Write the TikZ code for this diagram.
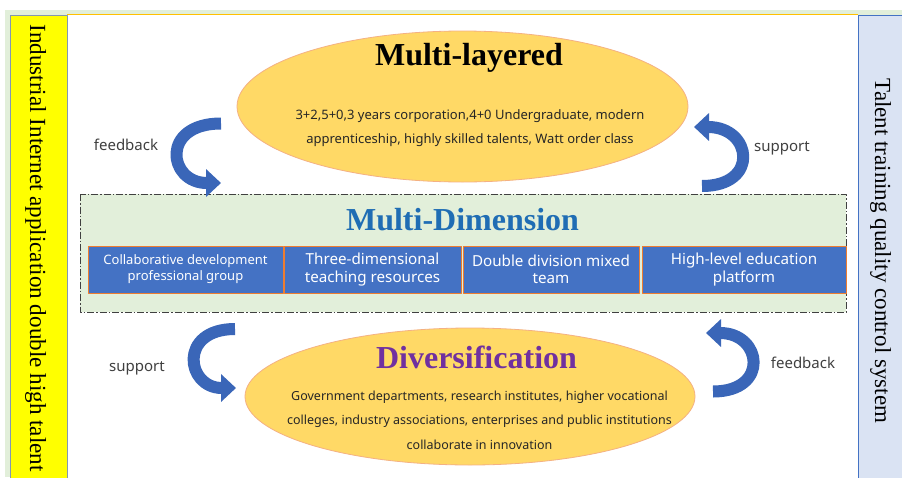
\documentclass[tikz,border=0pt]{standalone}
\usepackage{fontspec}
\setmainfont{Liberation Serif}
\newfontfamily\yahei{Noto Sans}
\usetikzlibrary{shapes.geometric,arrows.meta}

\definecolor{framegreen}{HTML}{E2EFDA}
\definecolor{sideyellow}{HTML}{FFFF00}
\definecolor{sideblue}{HTML}{DAE3F3}
\definecolor{sideedge}{HTML}{8497B0}
\definecolor{ovalfill}{HTML}{FFD966}
\definecolor{ovaledge}{HTML}{F4B183}
\definecolor{boxblue}{HTML}{4472C4}
\definecolor{boxedge}{HTML}{ED7D31}
\definecolor{arrowblue}{HTML}{3A66B8}
\definecolor{titleblue}{HTML}{1F6DB4}
\definecolor{titlepurple}{HTML}{7030A0}
\definecolor{labelgray}{HTML}{404040}
\definecolor{topline}{HTML}{FFC000}

\tikzset{
  oval/.style={ellipse, fill=ovalfill, draw=ovaledge, line width=0.8pt, inner sep=0pt},
  title/.style={font=\bfseries\fontsize{32}{36}\selectfont},
  ovaltext/.style={font=\yahei\fontsize{12.5}{24.5}\selectfont, text=black!85, align=center},
  dimbox/.style={fill=boxblue, draw=boxedge, line width=0.6pt, text=white, align=center,
    minimum height=47pt, inner sep=0pt, font=\yahei\fontsize{15.2}{17.5}\selectfont},
  loop arrow/.style={draw=arrowblue, line width=12pt, -{Triangle[width=27pt,length=15pt]}},
  arrowlabel/.style={font=\yahei\fontsize{15}{17}\selectfont, text=labelgray},
  sidetext/.style={rotate=-90, anchor=base west, font=\fontsize{23}{26}\selectfont}
}

\begin{document}
\begin{tikzpicture}[x=1pt, y=-1pt, line join=round]
  \useasboundingbox (0,0) rectangle (902,477);
  % frame and the two side columns
  \fill[white] (0,0) rectangle (902,477);
  \fill[framegreen] (5,10) rectangle (902,477);
  \fill[white] (67,15) rectangle (858,477);
  \draw[topline, line width=0.8pt] (67,14.5) -- (858,14.5);
  \filldraw[fill=sideyellow, draw=sideedge, line width=0.8pt] (10,15) rectangle (67,480);
  \filldraw[fill=sideblue, draw=boxblue, line width=0.8pt] (858.5,15) rectangle (905,480);
  \node[sidetext, font=\fontsize{23.1}{26}\selectfont] (industry) at (30,21)
    {Industrial Internet application double high talent};
  \node[sidetext] (quality) at (875,75) {Talent training quality control system};

  % top oval
  \node[oval, minimum width=451pt, minimum height=151pt] (layered) at (462.5,106.5) {};
  \node[title] (layeredtitle) at (469,58) {Multi-layered};
  \node[ovaltext, font=\yahei\fontsize{13}{24.5}\selectfont] (layeredtext) at (470,128)
    {3+2,5+0,3 years corporation,4+0 Undergraduate, modern\\
    apprenticeship, highly skilled talents, Watt order class};

  % middle band
  \filldraw[fill=framegreen, draw=black!75, line width=0.8pt,
    dash pattern=on 7pt off 2pt on 1.5pt off 2pt] (80,194) rectangle (846,312);
  \node[title, text=titleblue] (dimtitle) at (462.5,220) {Multi-Dimension};
  \node[dimbox, minimum width=195pt, font=\yahei\fontsize{13}{16}\selectfont] (group) at (185.5,269.5)
    {Collaborative development\\professional group};
  \node[dimbox, minimum width=177pt] (resources) at (372.5,269.5) {Three-dimensional\\teaching resources};
  \node[dimbox, minimum width=176pt] (team) at (551,269.5) {Double division mixed\\team};
  \node[dimbox, minimum width=204pt] (platform) at (744,269.5) {High-level education\\platform};

  % bottom oval
  \node[oval, minimum width=450pt, minimum height=137pt] (divers) at (470,396.5) {};
  \node[title, text=titlepurple] (diverstitle) at (476.5,357) {Diversification};
  \node[ovaltext] (diverstext) at (479.5,420) {Government departments, research institutes, higher vocational\\
    colleges, industry associations, enterprises and public institutions\\
    collaborate in innovation};

  % curved arrows
  \coordinate (fbA) at (221,123.5);
  \coordinate (fbB) at (221,183);
  \draw[loop arrow] (fbA) .. controls (160,123.5) and (168,183) .. (fbB);
  \coordinate (supA) at (702,186);
  \coordinate (supB) at (694,127);
  \draw[loop arrow] (supA) .. controls (760,186) and (752,127) .. (supB);
  \coordinate (supC) at (235,329);
  \coordinate (supD) at (236,388);
  \draw[loop arrow] (supC) .. controls (178,329) and (186,388) .. (supD);
  \coordinate (fbC) at (713,391.5);
  \coordinate (fbD) at (706,333);
  \draw[loop arrow] (fbC) .. controls (770,391.5) and (762,333) .. (fbD);

  \node[arrowlabel] (fbtop) at (126,145) {feedback};
  \node[arrowlabel] (suptop) at (782,148) {support};
  \node[arrowlabel] (supbot) at (137,368) {support};
  \node[arrowlabel] (fbbot) at (803,363) {feedback};
\end{tikzpicture}
\end{document}
